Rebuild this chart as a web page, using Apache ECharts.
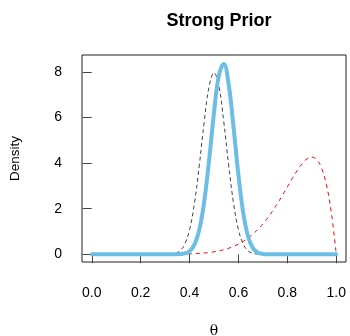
<!DOCTYPE html>
<html>
<head>
<meta charset="utf-8">
<script src="https://cdn.jsdelivr.net/npm/echarts@6/dist/echarts.min.js"></script>
<style>
  html, body { margin: 0; padding: 0; background: #fff; }
  #chart { width: 350px; height: 336px; }
</style>
</head>
<body>
<div id="chart"></div>
<script>
// theta grid, step 0.02
const thetas = [0.00, 0.02, 0.04, 0.06, 0.08, 0.10, 0.12, 0.14, 0.16, 0.18,
  0.20, 0.22, 0.24, 0.26, 0.28, 0.30, 0.32, 0.34, 0.36, 0.38,
  0.40, 0.42, 0.44, 0.46, 0.48, 0.50, 0.52, 0.54, 0.56, 0.58,
  0.60, 0.62, 0.64, 0.66, 0.68, 0.70, 0.72, 0.74, 0.76, 0.78,
  0.80, 0.82, 0.84, 0.86, 0.88, 0.90, 0.92, 0.94, 0.96, 0.98, 1.00];

// prior (black dashed)
const prior = [0, 0, 0, 0, 0, 0, 0, 0, 0, 0,
  0, 0, 0, 0, 0, 0.002, 0.009, 0.04, 0.146, 0.435,
  1.077, 2.234, 3.91, 5.81, 7.36, 7.96, 7.36, 5.81, 3.91, 2.234,
  1.077, 0.435, 0.146, 0.04, 0.009, 0.002, 0, 0, 0, 0,
  0, 0, 0, 0, 0, 0, 0, 0, 0, 0, 0];

// likelihood (red dashed)
const likelihood = [0, 0, 0, 0, 0, 0, 0, 0, 0, 0,
  0, 0, 0, 0, 0, 0.0015, 0.0026, 0.0044, 0.0072, 0.0113,
  0.0173, 0.0259, 0.0381, 0.0548, 0.0774, 0.1074, 0.1468, 0.1976, 0.2621, 0.3432,
  0.4434, 0.5658, 0.7134, 0.8887, 1.0943, 1.3317, 1.6016, 1.9031, 2.2331, 2.5862,
  2.9528, 3.3189, 3.6647, 3.9629, 4.1776, 4.2616, 4.155, 3.782, 3.047, 1.834, 0];

// posterior (blue)
const posterior = [0, 0, 0, 0, 0, 0, 0, 0, 0, 0,
  0, 0, 0, 0, 0, 0, 0, 0.002, 0.008, 0.036,
  0.135, 0.42, 1.08, 2.31, 4.14, 6.21, 7.85, 8.34, 7.45, 5.57,
  3.47, 1.79, 0.755, 0.258, 0.07, 0.015, 0.003, 0, 0, 0,
  0, 0, 0, 0, 0, 0, 0, 0, 0, 0, 0];

const xTicks = [0, 0.2, 0.4, 0.6, 0.8, 1.0];
const xTickLabels = ['0.0', '0.2', '0.4', '0.6', '0.8', '1.0'];
const yTicks = [0, 2, 4, 6, 8];
const yTickLabels = ['0', '2', '4', '6', '8'];

const pairs = (ys) => thetas.map((t, i) => [t, ys[i]]);
const labelFor = (ticks, labels) => (v) => {
  const i = ticks.findIndex(t => Math.abs(t - v) < 1e-9);
  return i >= 0 ? labels[i] : '';
};

const chart = echarts.init(document.getElementById('chart'), null, { renderer: 'canvas' });
const font = '"Liberation Sans", Arial, sans-serif';

chart.setOption({
  animation: false,
  backgroundColor: '#fff',
  title: {
    text: 'Strong Prior',
    left: 214,
    textAlign: 'center',
    top: 7,
    textStyle: { fontFamily: font, fontWeight: 'bold', fontSize: 18, color: '#000' }
  },
  grid: {
    left: 82, top: 55, right: 4, bottom: 74,
    show: true, borderColor: '#222', borderWidth: 1,
    backgroundColor: 'transparent',
    containLabel: false,
    outerBoundsMode: 'none'
  },
  xAxis: {
    type: 'value',
    min: -0.04, max: 1.04,
    name: 'θ',
    nameLocation: 'middle',
    nameGap: 62,
    nameTextStyle: { fontFamily: '"DejaVu Serif", "Liberation Serif", serif', fontSize: 14, color: '#000' },
    axisLine: { show: false },
    axisTick: { show: true, customValues: xTicks, length: 9, lineStyle: { color: '#444' } },
    axisLabel: {
      customValues: xTicks, formatter: labelFor(xTicks, xTickLabels),
      margin: 24, fontFamily: font, fontSize: 14, color: '#000'
    },
    splitLine: { show: false }
  },
  yAxis: {
    type: 'value',
    min: -0.34, max: 8.74,
    name: 'Density',
    nameLocation: 'middle',
    nameGap: 60,
    nameRotate: 90,
    nameTextStyle: { fontFamily: font, fontSize: 13.5, color: '#000' },
    axisLine: { show: false },
    axisTick: { show: true, customValues: yTicks, length: 9, lineStyle: { color: '#444' } },
    axisLabel: {
      customValues: yTicks, formatter: labelFor(yTicks, yTickLabels),
      margin: 20, fontFamily: font, fontSize: 14, color: '#000'
    },
    splitLine: { show: false }
  },
  series: [
    {
      name: 'Prior', type: 'line', data: pairs(prior),
      smooth: 0.4, showSymbol: false, symbol: 'none', z: 2,
      lineStyle: { color: '#444', width: 1, type: [4, 3] }
    },
    {
      name: 'Likelihood', type: 'line', data: pairs(likelihood),
      smooth: 0.4, showSymbol: false, symbol: 'none', z: 3,
      lineStyle: { color: '#ff0000', width: 1, type: [4, 4] }
    },
    {
      name: 'Posterior', type: 'line', data: pairs(posterior),
      smooth: 0.4, showSymbol: false, symbol: 'none', z: 4,
      lineStyle: { color: '#6cbee5', width: 4, cap: 'round', join: 'round' }
    }
  ]
});
</script>
</body>
</html>
